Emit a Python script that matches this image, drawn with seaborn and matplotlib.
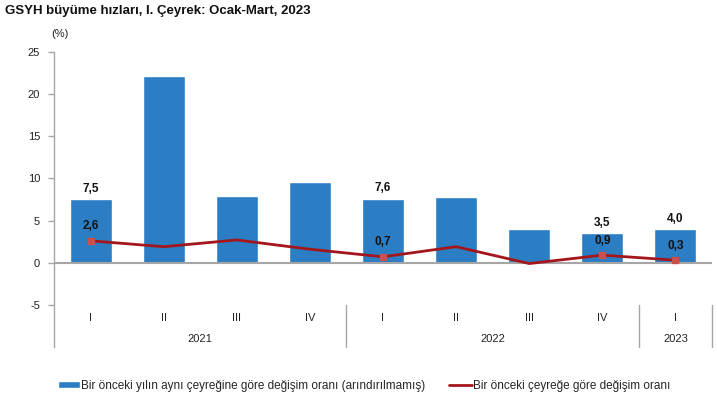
import numpy as np
import pandas as pd
import matplotlib
matplotlib.use("Agg")
import matplotlib.pyplot as plt
import seaborn as sns

quarters = ["I", "II", "III", "IV", "I", "II", "III", "IV", "I"]
years = ["2021", "2022", "2023"]
year_spans = [(0, 3), (4, 7), (8, 8)]
yoy = [7.5, 22.2, 7.9, 9.6, 7.6, 7.8, 4.0, 3.5, 4.0]
qoq = [2.6, 1.9, 2.7, 1.6, 0.7, 1.9, -0.1, 0.9, 0.3]
labeled = [0, 4, 7, 8]
yoy_labels = ["7,5", "7,6", "3,5", "4,0"]
qoq_labels = ["2,6", "0,7", "0,9", "0,3"]

title = "GSYH büyüme hızları, I. Çeyrek: Ocak-Mart, 2023"
legend_bar = "Bir önceki yılın aynı çeyreğine göre değişim oranı (arındırılmamış)"
legend_line = "Bir önceki çeyreğe göre değişim oranı"

sns.set_style("white")
plt.rcParams["font.family"] = ["Liberation Sans", "DejaVu Sans"]

bar_color = "#2b7ec4"
line_color = "#a3171c"
marker_color = "#c9504d"
grey = "#a6a6a6"

fig = plt.figure(figsize=(7.17, 3.98), dpi=100)
ax = fig.add_axes([54 / 717, 1 - 347 / 398, (712 - 54) / 717, (347 - 52) / 398])

pos = np.arange(len(yoy))
df = pd.DataFrame({"pos": pos, "yoy": yoy, "qoq": qoq})

sns.barplot(data=df, x="pos", y="yoy", color=bar_color, width=0.575,
            saturation=1, ax=ax, native_scale=True, label=legend_bar)
sns.lineplot(data=df, x="pos", y="qoq", color=line_color, linewidth=2.0,
             ax=ax, label=legend_line)
sub = df.iloc[labeled]
ax.plot(sub["pos"], sub["qoq"], linestyle="none", marker="s", markersize=5,
        color=marker_color, zorder=5)

for i, t in zip(labeled, yoy_labels):
    ax.text(pos[i], yoy[i] + 0.5, t, ha="center", va="bottom",
            fontsize=8.5, fontweight="bold", color="#111111")
for i, t in zip(labeled, qoq_labels):
    ax.text(pos[i], qoq[i] + 1.0, t, ha="center", va="bottom",
            fontsize=8.5, fontweight="bold", color="#111111")

ax.set_xlim(-0.5, 8.5)
ax.set_ylim(-10, 25)
ax.set_yticks([-5, 0, 5, 10, 15, 20, 25])
ax.set_yticklabels(["-5", "0", "5", "10", "15", "20", "25"], fontsize=8)
ax.tick_params(axis="y", direction="out", length=4, width=1, color=grey,
               pad=6, left=True, labelcolor="#222222")
ax.set_xticks([])
ax.set_xlabel("")
ax.set_ylabel("")

for s in ["top", "right", "bottom"]:
    ax.spines[s].set_visible(False)
ax.spines["left"].set_color(grey)
ax.spines["left"].set_linewidth(1)

ax.axhline(0, color=grey, linewidth=1.5, zorder=1)

for q, p in zip(quarters, pos):
    ax.text(p, -6.6, q, ha="center", va="center", fontsize=8, color="#222222")
for y, (a, b) in zip(years, year_spans):
    ax.text((a + b) / 2, -9.0, y, ha="center", va="center", fontsize=8,
            color="#222222")
for xs in [3.5, 7.5, 8.5]:
    ax.plot([xs, xs], [-5, -10], color=grey, linewidth=1, clip_on=False)

ax.text(-0.42, 26.5, "(%)", ha="center", va="bottom", fontsize=8,
        color="#222222")

fig.text(5 / 717, 1 - 11 / 398, title, ha="left", va="center", fontsize=9.5,
         fontweight="bold", color="#111111")

if ax.get_legend():
    ax.get_legend().remove()
handles, labels = ax.get_legend_handles_labels()
order = [labels.index(legend_bar), labels.index(legend_line)]
fig.legend([handles[k] for k in order], [labels[k] for k in order],
           loc="center", bbox_to_anchor=(364 / 717, 1 - 386 / 398),
           ncol=2, frameon=False, fontsize=8.5, handlelength=1.9,
           handleheight=0.5, columnspacing=2.0, handletextpad=0.1)

fig.savefig("out.png", dpi=100)
